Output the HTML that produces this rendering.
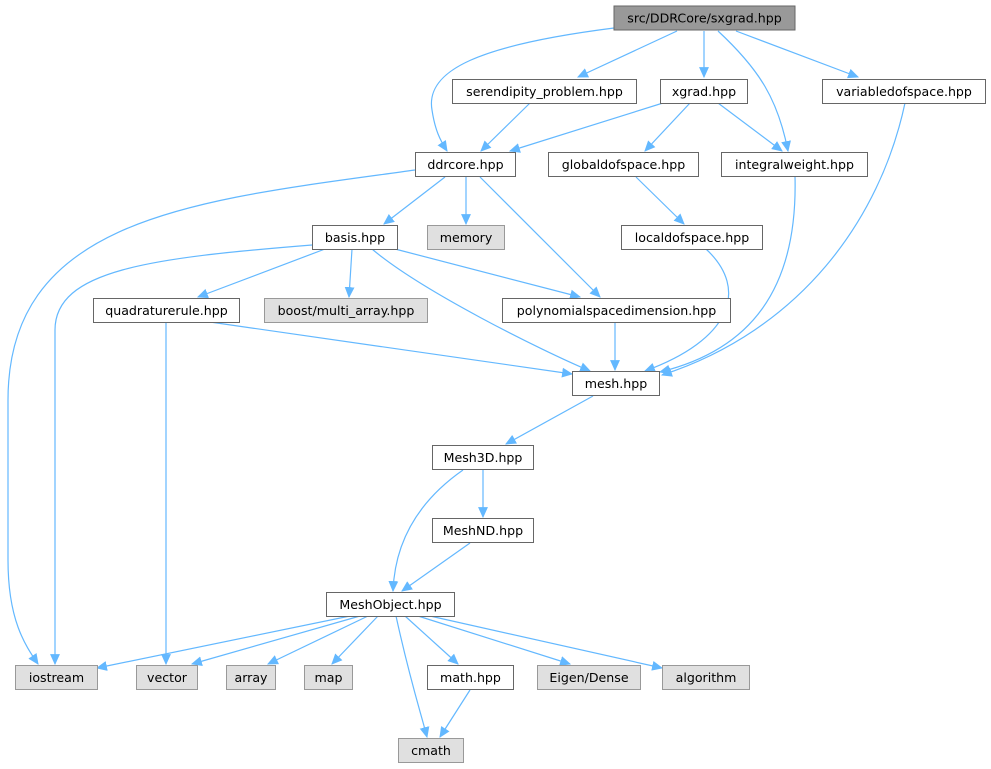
<!DOCTYPE html>
<html><head><meta charset="utf-8"><style>
html,body{margin:0;padding:0;background:#fff;}
svg{display:block;}
text{font-family:"DejaVu Sans","Liberation Sans",sans-serif;font-size:12.6px;fill:#000;text-anchor:middle;}
.n rect{fill:#fff;stroke:#666;stroke-width:1;}
.g rect{fill:#e0e0e0;stroke:#999;stroke-width:1;}
.e{fill:none;stroke:#63b8ff;stroke-width:1.2;marker-end:url(#a);}
</style></head><body>
<svg width="991" height="769" viewBox="0 0 991 769">
<defs><marker id="a" viewBox="0 0 10 10" refX="9" refY="5" markerWidth="11" markerHeight="11" markerUnits="userSpaceOnUse" orient="auto"><path d="M0,0.5 L10,5 L0,9.5 z" fill="#63b8ff"/></marker></defs>
<g>
<path class="e" d="M614,28 C480,45 425,70 432,110 C435,130 440,140 447,151"/>
<path class="e" d="M677,31 L578,77"/>
<path class="e" d="M704,31 L704,77"/>
<path class="e" d="M718,31 C760,70 778,100 788,151"/>
<path class="e" d="M736,31 L858,77"/>
<path class="e" d="M530,103 L481,151"/>
<path class="e" d="M663,103 L510,151"/>
<path class="e" d="M690,103 L645,151"/>
<path class="e" d="M718,103 L782,151"/>
<path class="e" d="M905,103 C880,220 800,330 662,375"/>
<path class="e" d="M795,176 C798,290 750,350 660,372"/>
<path class="e" d="M636,177 L684,224"/>
<path class="e" d="M415,170 C200,200 8,215 8,400 L8,560 C8,620 25,645 38,664"/>
<path class="e" d="M445,177 L384,224"/>
<path class="e" d="M466,177 L466,224"/>
<path class="e" d="M480,177 L600,297"/>
<path class="e" d="M706,249 C750,290 730,340 645,371"/>
<path class="e" d="M312,245 C150,258 55,270 55,330 L55,664"/>
<path class="e" d="M325,249 L198,297"/>
<path class="e" d="M352,249 L349,297"/>
<path class="e" d="M395,249 L580,297"/>
<path class="e" d="M372,249 C420,290 540,350 590,371"/>
<path class="e" d="M166,322 L166,664"/>
<path class="e" d="M210,322 L572,374"/>
<path class="e" d="M615,322 L615,370"/>
<path class="e" d="M593,396 L506,444"/>
<path class="e" d="M483,470 L483,517"/>
<path class="e" d="M463,470 C420,500 395,540 393,591"/>
<path class="e" d="M470,543 L402,591"/>
<path class="e" d="M350,616 L97,668"/>
<path class="e" d="M360,616 L192,664"/>
<path class="e" d="M368,616 L268,664"/>
<path class="e" d="M378,616 L332,664"/>
<path class="e" d="M396,616 C410,680 420,710 427,737"/>
<path class="e" d="M405,616 L458,664"/>
<path class="e" d="M418,616 L570,664"/>
<path class="e" d="M430,616 L662,668"/>
<path class="e" d="M470,690 L440,737"/>
</g>
<g fill="none">
<rect x="614" y="6" width="181" height="24" fill="#999" stroke="#666"/><text x="704.5" y="22.5">src/DDRCore/sxgrad.hpp</text>
</g>
<g class="n"><rect x="452.5" y="79.5" width="184" height="24"/><text x="544.5" y="96">serendipity_problem.hpp</text></g>
<g class="n"><rect x="660.5" y="79.5" width="87" height="24"/><text x="704" y="96">xgrad.hpp</text></g>
<g class="n"><rect x="822.5" y="79.5" width="163" height="24"/><text x="904" y="96">variabledofspace.hpp</text></g>
<g class="n"><rect x="415.5" y="152.5" width="100" height="24"/><text x="465.5" y="169">ddrcore.hpp</text></g>
<g class="n"><rect x="548.5" y="152.5" width="150" height="24"/><text x="623.5" y="169">globaldofspace.hpp</text></g>
<g class="n"><rect x="721.5" y="152.5" width="146" height="24"/><text x="794.5" y="169">integralweight.hpp</text></g>
<g class="n"><rect x="312.5" y="225.5" width="85" height="24"/><text x="355" y="242">basis.hpp</text></g>
<g class="g"><rect x="427.5" y="225.5" width="77" height="24"/><text x="466" y="242">memory</text></g>
<g class="n"><rect x="621.5" y="225.5" width="141" height="24"/><text x="692" y="242">localdofspace.hpp</text></g>
<g class="n"><rect x="93.5" y="298.5" width="146" height="24"/><text x="166.5" y="315">quadraturerule.hpp</text></g>
<g class="g"><rect x="264.5" y="298.5" width="163" height="24"/><text x="346" y="315">boost/multi_array.hpp</text></g>
<g class="n"><rect x="502.5" y="298.5" width="228" height="24"/><text x="616.5" y="315">polynomialspacedimension.hpp</text></g>
<g class="n"><rect x="572.5" y="371.5" width="87" height="24"/><text x="616" y="388">mesh.hpp</text></g>
<g class="n"><rect x="432.5" y="445.5" width="101" height="24"/><text x="483" y="462">Mesh3D.hpp</text></g>
<g class="n"><rect x="432.5" y="518.5" width="101" height="24"/><text x="483" y="535">MeshND.hpp</text></g>
<g class="n"><rect x="326.5" y="592.5" width="128" height="24"/><text x="390.5" y="609">MeshObject.hpp</text></g>
<g class="g"><rect x="15.5" y="665.5" width="82" height="24"/><text x="56.5" y="682">iostream</text></g>
<g class="g"><rect x="136.5" y="665.5" width="61" height="24"/><text x="167" y="682">vector</text></g>
<g class="g"><rect x="226.5" y="665.5" width="49" height="24"/><text x="251" y="682">array</text></g>
<g class="g"><rect x="304.5" y="665.5" width="48" height="24"/><text x="328.5" y="682">map</text></g>
<g class="n"><rect x="427.5" y="665.5" width="86" height="24"/><text x="470.5" y="682">math.hpp</text></g>
<g class="g"><rect x="537.5" y="665.5" width="103" height="24"/><text x="589" y="682">Eigen/Dense</text></g>
<g class="g"><rect x="662.5" y="665.5" width="87" height="24"/><text x="706" y="682">algorithm</text></g>
<g class="g"><rect x="398.5" y="738.5" width="65" height="24"/><text x="431" y="755">cmath</text></g>
</svg>
</body></html>
